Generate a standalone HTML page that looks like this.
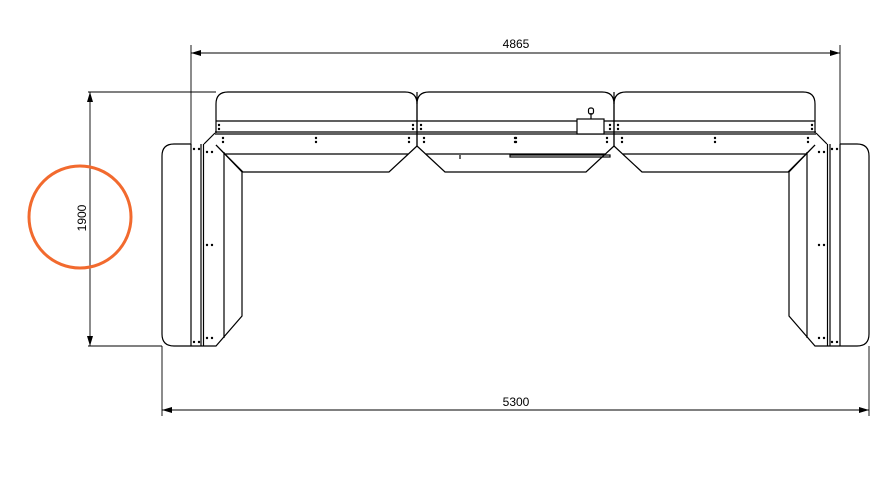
<!DOCTYPE html>
<html><head><style>body{margin:0;background:#fff}svg{display:block}</style></head><body>
<svg width="886" height="498" viewBox="0 0 886 498" xmlns="http://www.w3.org/2000/svg">
<defs>
<marker id="a" markerWidth="10" markerHeight="6" refX="10" refY="3" orient="auto-start-reverse" markerUnits="userSpaceOnUse"><path d="M0,0 L10,3 L0,6z" fill="#000"/></marker>
<g id="half" fill="none" stroke="#000" stroke-width="1.2">
  <!-- top-left module -->
  <path d="M216,133 V104 Q216,92 228,92 H405 Q417,92 417,104 V146"/>
  <line x1="216" y1="121" x2="515.5" y2="121"/>
  <line x1="215" y1="132" x2="515.5" y2="132"/>
  <line x1="215" y1="134" x2="515.5" y2="134"/>
  <line x1="224" y1="154" x2="408" y2="154"/>
  <line x1="426" y1="154" x2="515.5" y2="154"/>
  <path d="M215,133 L204,144"/>
  <path d="M216,145 L243,172 H389 L417,146 L445,172 H515.5"/>
  <line x1="417" y1="92" x2="417" y2="146"/>
  <path d="M417,104 Q417,92 429,92 H515.5"/>
  <!-- left module -->
  <path d="M191,144 H174 Q162,144 162,156 V334 Q162,346 174,346 H216 L242,316 V172 L216,145"/>
  <line x1="191" y1="144" x2="191" y2="346"/>
  <line x1="201" y1="144" x2="201" y2="346"/>
  <line x1="203.5" y1="144" x2="203.5" y2="346"/>
  <line x1="224" y1="152" x2="224" y2="338"/>
</g>
<g id="dots" fill="#000">
  <circle cx="219" cy="125" r="1.2"/><circle cx="219" cy="129" r="1.2"/>
  <circle cx="413" cy="125" r="1.2"/><circle cx="413" cy="129" r="1.2"/>
  <circle cx="421" cy="125" r="1.2"/><circle cx="421" cy="129" r="1.2"/>
  <circle cx="223" cy="138" r="1.2"/><circle cx="223" cy="142" r="1.2"/>
  <circle cx="316" cy="138" r="1.2"/><circle cx="316" cy="142" r="1.2"/>
  <circle cx="409" cy="138" r="1.2"/><circle cx="409" cy="142" r="1.2"/>
  <circle cx="424" cy="138" r="1.2"/><circle cx="424" cy="142" r="1.2"/>
  <circle cx="516" cy="138" r="1.2"/><circle cx="516" cy="142" r="1.2"/>
  <circle cx="194" cy="149" r="1.2"/><circle cx="199" cy="149" r="1.2"/>
  <circle cx="207" cy="152" r="1.2"/><circle cx="212" cy="152" r="1.2"/>
  <circle cx="207" cy="245" r="1.2"/><circle cx="212" cy="245" r="1.2"/>
  <circle cx="207" cy="338" r="1.2"/><circle cx="212" cy="338" r="1.2"/>
  <circle cx="194" cy="342" r="1.2"/><circle cx="199" cy="342" r="1.2"/>
</g>
</defs>
<use href="#half"/><use href="#dots"/>
<g transform="translate(1031,0) scale(-1,1)"><use href="#half"/><use href="#dots"/></g>
<g fill="none" stroke="#000" stroke-width="1.2">
  <rect x="577" y="119" width="27" height="15" fill="#fff"/>
  <line x1="591" y1="113" x2="591" y2="119"/>
  <rect x="588.5" y="108" width="5" height="6" rx="2"/>
  <rect x="510" y="155" width="100" height="2"/>
  <line x1="460" y1="155" x2="460" y2="159"/>
</g>
<!-- dimensions -->
<g stroke="#000" stroke-width="0.9" fill="none">
  <line x1="191" y1="45" x2="191" y2="144"/>
  <line x1="840" y1="45" x2="840" y2="144"/>
  <line x1="191" y1="53" x2="840" y2="53" marker-start="url(#a)" marker-end="url(#a)"/>
  <line x1="162" y1="346" x2="162" y2="416"/>
  <line x1="869" y1="346" x2="869" y2="416"/>
  <line x1="162" y1="410" x2="869" y2="410" marker-start="url(#a)" marker-end="url(#a)"/>
  <line x1="88" y1="92" x2="216" y2="92"/>
  <line x1="88" y1="346" x2="162" y2="346"/>
  <line x1="90" y1="92" x2="90" y2="346" marker-start="url(#a)" marker-end="url(#a)"/>
</g>
<g font-family="Liberation Sans, sans-serif" font-size="12" fill="#000" text-anchor="middle">
  <text x="516" y="48">4865</text>
  <text x="516" y="406">5300</text>
  <text transform="translate(86,218) rotate(-90)">1900</text>
</g>
<circle cx="80" cy="217" r="51" fill="none" stroke="#f26a2e" stroke-width="3"/>
</svg>
</body></html>
